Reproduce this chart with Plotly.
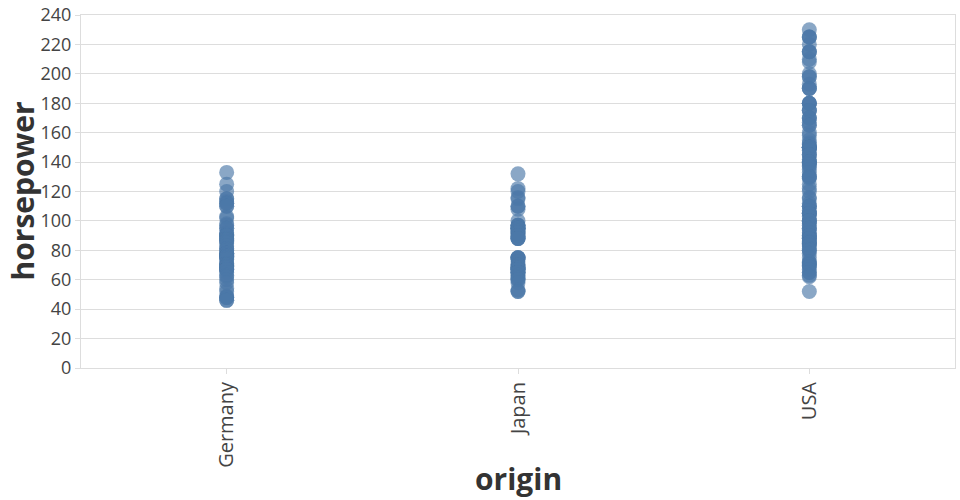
import plotly.graph_objects as go

categories = ["Germany", "Japan", "USA"]

germany_hp = [133, 125, 120, 115, 115, 113, 112, 112, 110, 110, 103, 102, 98, 97, 95, 95,
              92, 91, 90, 90, 90, 88, 88, 87, 87, 86, 85, 83, 81, 81, 80, 78, 78, 78, 77,
              76, 76, 76, 75, 75, 74, 71, 71, 70, 70, 69, 69, 68, 67, 67, 67, 67, 65, 63,
              62, 60, 58, 54, 52, 49, 48, 48, 48, 46, 46]

japan_hp = [132, 122, 120, 116, 115, 110, 110, 108, 100, 97, 97, 97, 96, 95, 95, 95, 95,
            94, 93, 92, 92, 90, 90, 88, 88, 88, 88, 75, 75, 75, 75, 74, 72, 70, 70, 69,
            68, 68, 67, 67, 67, 67, 65, 65, 65, 65, 63, 62, 61, 60, 60, 58, 53, 52, 52]

usa_hp = [230, 225, 225, 225, 220, 215, 215, 215, 210, 208, 200, 198, 198, 193, 190, 190,
          190, 180, 180, 180, 180, 175, 175, 175, 170, 170, 170, 167, 165, 165, 160, 158,
          155, 153, 152, 150, 150, 150, 150, 150, 150, 149, 148, 145, 145, 145, 142, 140,
          140, 140, 140, 139, 138, 137, 135, 133, 130, 130, 130, 129, 125, 122, 120, 116,
          115, 112, 110, 110, 110, 107, 105, 105, 105, 105, 103, 100, 100, 100, 100, 98,
          97, 95, 95, 94, 92, 90, 90, 90, 88, 88, 88, 86, 85, 85, 85, 84, 83, 81, 80, 80,
          78, 75, 72, 72, 71, 70, 70, 69, 67, 65, 65, 63, 62, 52]

y_ticks = [0, 20, 40, 60, 80, 100, 120, 140, 160, 180, 200, 220, 240]

xs, ys = [], []
for cat, vals in zip(categories, [germany_hp, japan_hp, usa_hp]):
    xs += [cat] * len(vals)
    ys += vals

fig = go.Figure(go.Scatter(
    x=xs, y=ys, mode="markers",
    marker=dict(size=15, color="#4c78a8", opacity=0.65, line=dict(width=0)),
    hoverinfo="x+y", showlegend=False,
))

FONT = "Open Sans"
fig.update_layout(
    width=960, height=500,
    margin=dict(l=81, r=5, t=15, b=132),
    plot_bgcolor="white", paper_bgcolor="white",
    font=dict(family=FONT, color="#444"),
    annotations=[
        dict(text="<b>horsepower</b>", xref="paper", yref="paper", x=0, y=0.5,
             xshift=-59, xanchor="center", yanchor="middle", textangle=-90,
             showarrow=False, font=dict(size=30, color="#333", family=FONT)),
        dict(text="<b>origin</b>", xref="paper", yref="paper", x=0.5, y=0,
             yshift=-110, xanchor="center", yanchor="middle",
             showarrow=False, font=dict(size=30, color="#333", family=FONT)),
    ],
)
fig.update_xaxes(
    type="category", categoryorder="array", categoryarray=categories,
    range=[-0.5, 2.5], showgrid=False, automargin=False,
    showline=True, linecolor="#ddd", linewidth=1, mirror=True,
    ticks="outside", ticklen=5, tickcolor="#ddd",
    tickangle=-90, tickfont=dict(size=20, color="#444"),
)
fig.update_yaxes(
    range=[0, 240], tickvals=y_ticks, showgrid=True, gridcolor="#ddd", gridwidth=1,
    zeroline=False, automargin=False,
    showline=True, linecolor="#ddd", linewidth=1, mirror=True,
    ticks="outside", ticklen=5, tickcolor="#ddd",
    tickfont=dict(size=18, color="#444"),
)

fig.write_html("out.html", config={"displayModeBar": False},
               post_script="document.body.style.margin='0';document.body.style.overflow='hidden';")
